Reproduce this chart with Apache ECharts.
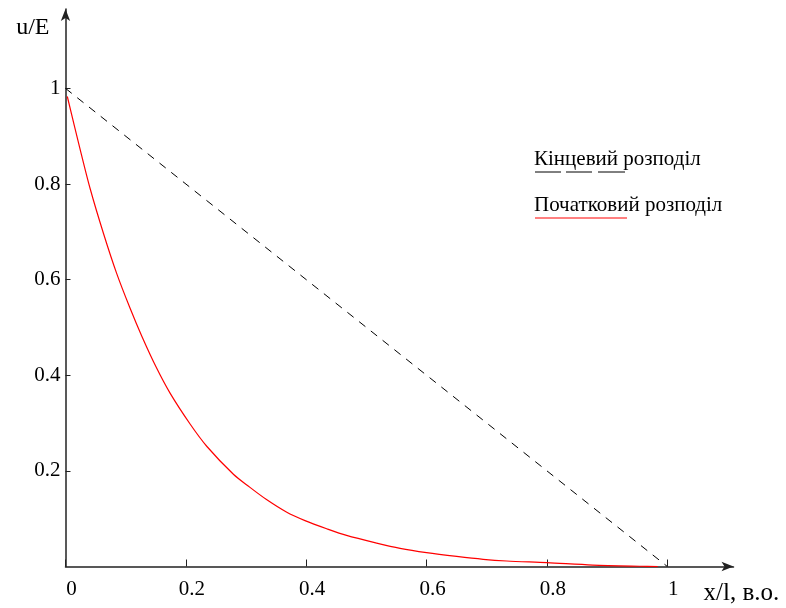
<!DOCTYPE html>
<html>
<head>
  <meta charset="UTF-8">
  <title>u/E</title>
  <style>
    * { margin: 0; padding: 0; }
    html, body { width: 100%; height: 100%; background: #fff; }
    #chart { width: 786px; height: 608px; }
  </style>
  <script src="https://cdn.jsdelivr.net/npm/echarts@6/dist/echarts.min.js"></script>
</head>
<body>
  <div id="chart"></div>
  <script>
    // початковий розподіл
    var initX = [0.003, 0.024, 0.041, 0.063, 0.085, 0.107, 0.127, 0.151, 0.174, 0.207, 0.235, 0.279,
                 0.306, 0.334, 0.367, 0.398, 0.434, 0.467, 0.517, 0.556, 0.600, 0.650, 0.694, 0.733,
                 0.800, 0.876, 0.954, 0.984];
    var initY = [0.983, 0.874, 0.790, 0.697, 0.613, 0.541, 0.481, 0.416, 0.362, 0.298, 0.251, 0.193,
                 0.166, 0.140, 0.114, 0.096, 0.079, 0.065, 0.049, 0.038, 0.029, 0.021, 0.015, 0.0115,
                 0.008, 0.003, 0.0005, 0.0];
    // кінцевий розподіл
    var finalX = [0, 1];
    var finalY = [1, 0];

    var xTicks = [0, 0.2, 0.4, 0.6, 0.8, 1];
    var yTicks = [0.2, 0.4, 0.6, 0.8, 1];

    var font = 'Liberation Serif';

    function pairs(xs, ys) {
      return xs.map(function (x, i) { return [x, ys[i]]; });
    }

    var chart = echarts.init(document.getElementById('chart'));
    var option = {
      backgroundColor: '#fff',
      animation: false,
      grid: { left: 65.5, right: 52.5, top: 9, bottom: 41.5 },
      xAxis: {
        type: 'value',
        min: 0,
        max: 1.11,
        splitLine: { show: false },
        axisLine: { lineStyle: { color: '#222', width: 1.5 }, symbol: ['none', 'arrow'], symbolSize: [7, 12] },
        axisTick: { inside: true, length: 7, lineStyle: { color: '#222' }, customValues: xTicks },
        axisLabel: {
          customValues: xTicks, color: '#000', fontFamily: font, fontSize: 21, margin: 12,
          padding: [0, 0, 0, 12]
        },
        name: 'x/l, в.о.',
        nameGap: -30,
        nameTextStyle: { color: '#000', fontFamily: font, fontSize: 25, verticalAlign: 'top', padding: [14, 0, 0, 0] }
      },
      yAxis: {
        type: 'value',
        min: 0,
        max: 1.166,
        splitLine: { show: false },
        axisLine: { lineStyle: { color: '#222', width: 1.5 }, symbol: ['none', 'arrow'], symbolSize: [7, 12] },
        axisTick: { inside: true, length: 5, lineStyle: { color: '#222' }, customValues: yTicks },
        axisLabel: { customValues: yTicks, color: '#000', fontFamily: font, fontSize: 21, margin: 5 },
        name: 'u/E',
        nameGap: -19,
        nameTextStyle: { color: '#000', fontFamily: font, fontSize: 24, align: 'right', verticalAlign: 'middle', padding: [0, 16, 0, 0] }
      },
      series: [
        {
          name: 'Початковий розподіл',
          type: 'line',
          data: pairs(initX, initY),
          showSymbol: false,
          smooth: 0.3,
          lineStyle: { color: '#ff0000', width: 1.2 }
        },
        {
          name: 'Кінцевий розподіл',
          type: 'line',
          data: pairs(finalX, finalY),
          showSymbol: false,
          lineStyle: { color: '#000', width: 1, type: [8, 7] }
        }
      ],
      graphic: [
        { type: 'text', left: 534, top: 149, style: { text: 'Кінцевий розподіл', font: '21px "Liberation Serif"', fill: '#000' } },
        { type: 'line', shape: { x1: 535, y1: 172, x2: 561, y2: 172 }, style: { stroke: '#000', lineWidth: 1 } },
        { type: 'line', shape: { x1: 566, y1: 172, x2: 592, y2: 172 }, style: { stroke: '#000', lineWidth: 1 } },
        { type: 'line', shape: { x1: 598, y1: 172, x2: 625, y2: 172 }, style: { stroke: '#000', lineWidth: 1 } },
        { type: 'text', left: 534, top: 195, style: { text: 'Початковий розподіл', font: '21px "Liberation Serif"', fill: '#000' } },
        { type: 'line', shape: { x1: 535, y1: 218, x2: 627, y2: 218 }, style: { stroke: '#ff0000', lineWidth: 1 } }
      ]
    };
    chart.setOption(option);
  </script>
</body>
</html>
